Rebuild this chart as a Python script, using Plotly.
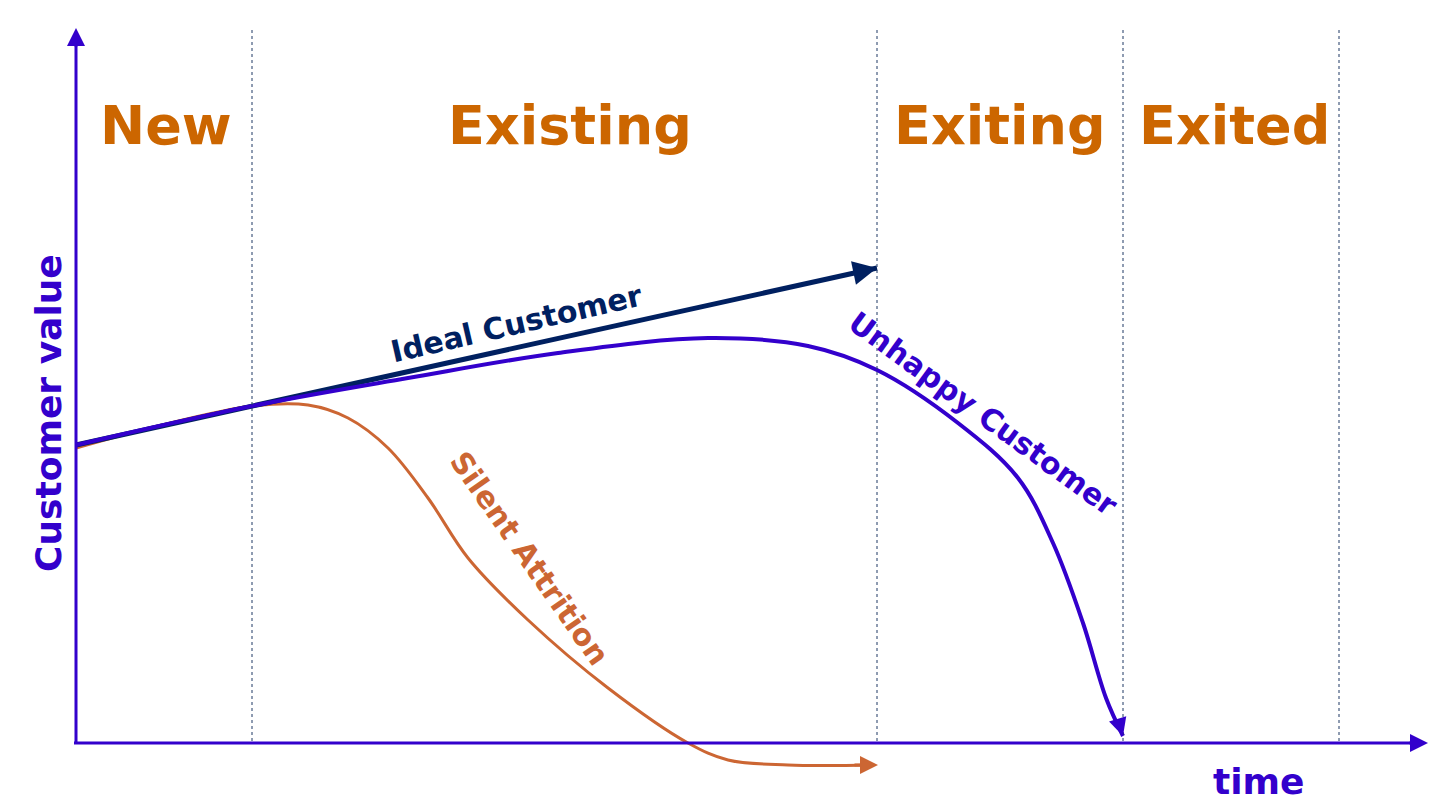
import plotly.graph_objects as go

# pixel-space coordinates (y grows downward)
phase_names = ["New", "Existing", "Exiting", "Exited"]
phase_label_x = [158, 562, 992, 1226]
phase_bounds = [244, 869, 1115, 1331]

ideal_x = [68, 869]
ideal_y = [437, 260]

unhappy_x = [68, 244, 400, 550, 700, 800, 869, 950, 1010, 1045, 1075, 1098, 1115]
unhappy_y = [437, 398, 370, 345, 330, 338, 362, 415, 470, 535, 615, 690, 728]

silent_x = [68, 150, 244, 300, 340, 380, 420, 460, 520, 600, 680, 720, 780, 865]
silent_y = [440, 418, 398, 397, 410, 440, 490, 550, 612, 680, 735, 752, 757, 757]

ORANGE = "#cc6600"
PURPLE = "#3300cc"
NAVY = "#002060"
RUST = "#cc6633"
FONT = "DejaVu Sans"

fig = go.Figure()
fig.add_trace(go.Scatter(x=silent_x, y=silent_y, mode="lines", line=dict(color=RUST, width=3, shape="spline")))
fig.add_trace(go.Scatter(x=ideal_x, y=ideal_y, mode="lines", line=dict(color=NAVY, width=5)))
fig.add_trace(go.Scatter(x=unhappy_x, y=unhappy_y, mode="lines", line=dict(color=PURPLE, width=4, shape="spline")))

shapes = []
for b in phase_bounds:
    shapes.append(dict(type="line", x0=b, x1=b, y0=22, y1=735, line=dict(color="#1f3864", width=1, dash="dot")))
shapes.append(dict(type="line", x0=68, x1=68, y0=735, y1=30, line=dict(color=PURPLE, width=3)))
shapes.append(dict(type="line", x0=66, x1=1410, y0=735, y1=735, line=dict(color=PURPLE, width=3)))

ann = []
for name, lx in zip(phase_names, phase_label_x):
    ann.append(dict(x=lx, y=117, text="<b>%s</b>" % name, showarrow=False,
                    font=dict(family=FONT, size=54, color=ORANGE)))

def arrow(x, y, ax, ay, color, w):
    return dict(x=x, y=y, ax=ax, ay=ay, xref="x", yref="y", axref="x", ayref="y",
                text="", showarrow=True, arrowhead=2, arrowsize=1.2, arrowwidth=w, arrowcolor=color)

ann.append(arrow(68, 20, 68, 40, PURPLE, 3))
ann.append(arrow(1420, 735, 1400, 735, PURPLE, 3))
ann.append(arrow(ideal_x[-1], ideal_y[-1], 845, 265, NAVY, 4))
ann.append(arrow(unhappy_x[-1], unhappy_y[-1], 1110, 712, PURPLE, 3))
ann.append(arrow(silent_x[-1] + 5, silent_y[-1], 845, 757, RUST, 3))

ann.append(dict(x=508, y=315, text="<b>Ideal Customer</b>", textangle=-13, showarrow=False,
                font=dict(family=FONT, size=30, color=NAVY)))
ann.append(dict(x=975, y=405, text="<b>Unhappy Customer</b>", textangle=36, showarrow=False,
                font=dict(family=FONT, size=30, color=PURPLE)))
ann.append(dict(x=522, y=550, text="<b>Silent Attrition</b>", textangle=55, showarrow=False,
                font=dict(family=FONT, size=30, color=RUST)))
ann.append(dict(x=40, y=405, text="<b>Customer value</b>", textangle=-90, showarrow=False,
                font=dict(family=FONT, size=36, color=PURPLE)))
ann.append(dict(x=1250, y=773, text="<b>time</b>", showarrow=False,
                font=dict(family=FONT, size=36, color=PURPLE)))

fig.update_layout(
    width=1441, height=806, margin=dict(l=0, r=0, t=0, b=0),
    plot_bgcolor="white", paper_bgcolor="white", showlegend=False,
    xaxis=dict(range=[0, 1441], visible=False),
    yaxis=dict(range=[806, 0], visible=False),
    shapes=shapes, annotations=ann,
)
fig.write_html("out.html")
